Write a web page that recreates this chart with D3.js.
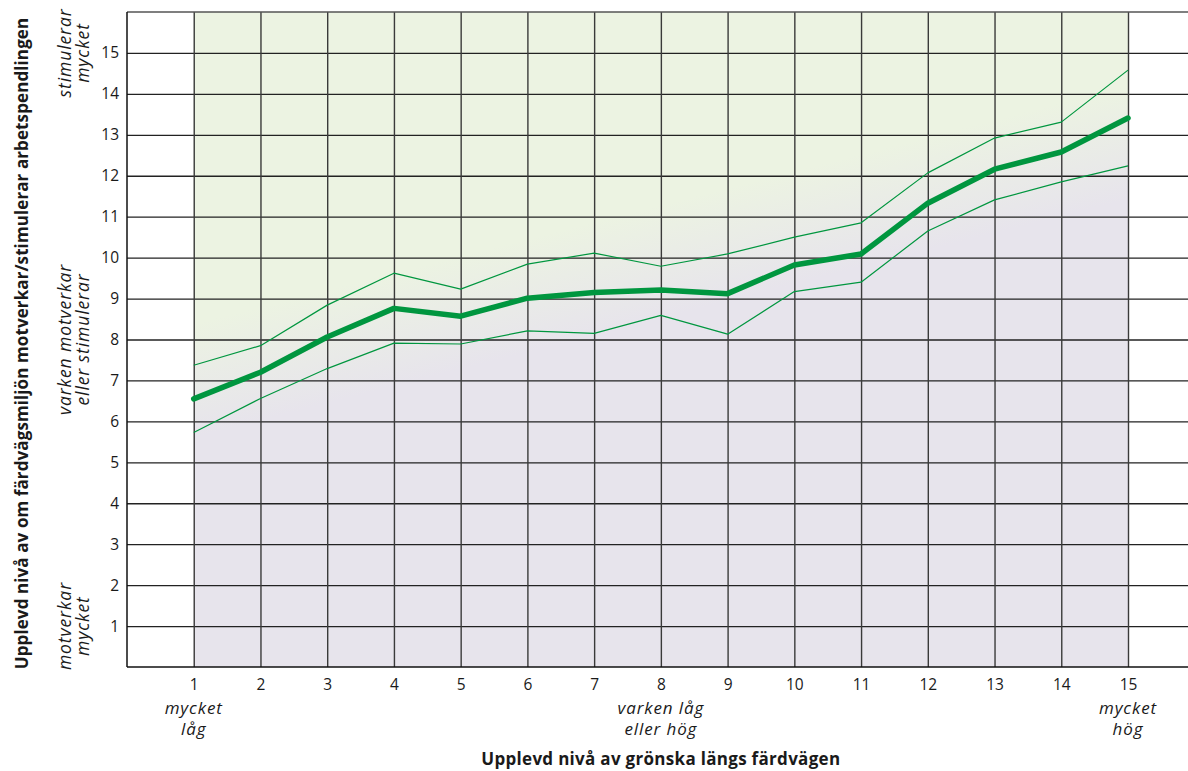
<!DOCTYPE html>
<html>
<head>
<meta charset="utf-8">
<script src="https://cdn.jsdelivr.net/npm/d3@7"></script>
<style>
  html, body { margin: 0; padding: 0; background: #fff; }
  svg { display: block; font-family: "Open Sans", Lato, sans-serif; }
</style>
</head>
<body>
<svg id="chart" width="1188" height="771"></svg>
<script>
// ---- data ----
const categories = [1, 2, 3, 4, 5, 6, 7, 8, 9, 10, 11, 12, 13, 14, 15];
const meanValues  = [6.55, 7.20, 8.06, 8.76, 8.57, 9.01, 9.15, 9.21, 9.12, 9.82, 10.09, 11.33, 12.16, 12.58, 13.41];
const upperValues = [7.37, 7.85, 8.84, 9.62, 9.23, 9.84, 10.11, 9.79, 10.09, 10.50, 10.85, 12.07, 12.92, 13.31, 14.58];
const lowerValues = [5.73, 6.56, 7.29, 7.91, 7.89, 8.21, 8.15, 8.59, 8.13, 9.17, 9.40, 10.65, 11.41, 11.85, 12.24];
const xTickLabels = categories.map(String);
const yTicks = [1, 2, 3, 4, 5, 6, 7, 8, 9, 10, 11, 12, 13, 14, 15];
const xNotes = [
  { at: 1, lines: ["mycket", "låg"] },
  { at: 8, lines: ["varken låg", "eller hög"] },
  { at: 15, lines: ["mycket", "hög"] }
];
const yNotes = [
  { at: 15, lines: ["stimulerar", "mycket"] },
  { at: 8, lines: ["varken motverkar", "eller stimulerar"] },
  { at: 1, lines: ["motverkar", "mycket"] }
];
const xTitle = "Upplevd nivå av grönska längs färdvägen";
const yTitle = "Upplevd nivå av om färdvägsmiljön motverkar/stimulerar arbetspendlingen";

// ---- layout ----
const W = 1188, H = 771;
const svg = d3.select("#chart");
const x = d3.scaleLinear().domain([0, 15]).range([127, 1128]);
const y = d3.scaleLinear().domain([0, 16]).range([667, 12]);
const ink = "#1a1a1a";
const green = "#00963f";
const font = "'Open Sans', Lato, sans-serif";

// background gradient (green above, lavender below), diagonal following the trend
const defs = svg.append("defs");
const p1 = [x(1.5), y(7.2)], p2 = [x(14.5), y(12.6)];
const mid = [(p1[0] + p2[0]) / 2, (p1[1] + p2[1]) / 2];
let dx = p2[0] - p1[0], dy = p2[1] - p1[1];
const len = Math.hypot(dx, dy);
let nx = -dy / len, ny = dx / len;
if (ny < 0) { nx = -nx; ny = -ny; }
const spread = 55;
const grad = defs.append("linearGradient")
  .attr("id", "bg").attr("gradientUnits", "userSpaceOnUse")
  .attr("x1", mid[0] - nx * spread).attr("y1", mid[1] - ny * spread)
  .attr("x2", mid[0] + nx * spread).attr("y2", mid[1] + ny * spread);
grad.append("stop").attr("offset", "0%").attr("stop-color", "#ecf3e2");
grad.append("stop").attr("offset", "100%").attr("stop-color", "#e7e4ec");

svg.append("rect")
  .attr("x", x(1)).attr("y", y(16))
  .attr("width", x(15) - x(1)).attr("height", y(0) - y(16))
  .attr("fill", "url(#bg)");

// horizontal grid via axisLeft
const yAxis = svg.append("g")
  .attr("transform", `translate(${x(0)},0)`)
  .call(d3.axisLeft(y).tickValues(yTicks).tickSize(-(W - x(0))).tickPadding(8).tickFormat(d3.format("d")));
yAxis.select(".domain").remove();
yAxis.selectAll(".tick line").attr("stroke", "#222").attr("stroke-width", 1.3);
yAxis.selectAll(".tick text")
  .attr("fill", ink).attr("font-size", 15.5).attr("font-family", font);

// vertical grid via axisBottom
const xAxis = svg.append("g")
  .attr("transform", `translate(0,${y(0)})`)
  .call(d3.axisBottom(x).tickValues(categories).tickSize(-(y(0) - y(16))).tickFormat((d, i) => xTickLabels[i]));
xAxis.select(".domain").remove();
xAxis.selectAll(".tick line").attr("stroke", "#3a3a3a").attr("stroke-width", 1.4);
xAxis.selectAll(".tick text")
  .attr("fill", ink).attr("font-size", 15.5).attr("font-family", font)
  .attr("y", 23).attr("dy", 0);

// frame lines
svg.append("line").attr("x1", x(0)).attr("x2", W).attr("y1", y(16)).attr("y2", y(16))
  .attr("stroke", "#555").attr("stroke-width", 1.5);
svg.append("line").attr("x1", x(0)).attr("x2", W).attr("y1", y(0)).attr("y2", y(0))
  .attr("stroke", "#111").attr("stroke-width", 1.5);
svg.append("line").attr("x1", x(0)).attr("x2", x(0)).attr("y1", y(16)).attr("y2", y(0))
  .attr("stroke", "#111").attr("stroke-width", 1.5);

// series lines
const line = d3.line().x((d, i) => x(categories[i])).y(d => y(d));
svg.append("path").datum(upperValues).attr("d", line)
  .attr("fill", "none").attr("stroke", green).attr("stroke-width", 1.2).attr("stroke-linejoin", "round");
svg.append("path").datum(lowerValues).attr("d", line)
  .attr("fill", "none").attr("stroke", green).attr("stroke-width", 1.2).attr("stroke-linejoin", "round");
svg.append("path").datum(meanValues).attr("d", line)
  .attr("fill", "none").attr("stroke", green).attr("stroke-width", 5.5)
  .attr("stroke-linejoin", "round").attr("stroke-linecap", "round");

// x notes (italic), one text element per line
xNotes.forEach(n => {
  n.lines.forEach((l, i) => svg.append("text")
    .attr("x", x(n.at)).attr("y", 714 + i * 21)
    .attr("text-anchor", "middle").attr("font-style", "italic")
    .attr("font-size", 17).attr("letter-spacing", 0.9)
    .attr("fill", ink).attr("font-family", font).text(l));
});

// y notes (italic, rotated)
yNotes.forEach(n => {
  const cy = y(n.at);
  const t = svg.append("text")
    .attr("transform", `translate(71,${cy}) rotate(-90)`)
    .attr("text-anchor", "middle").attr("font-style", "italic")
    .attr("font-size", 17.5).attr("letter-spacing", 0.9)
    .attr("fill", ink).attr("font-family", font);
  n.lines.forEach((l, i) => t.append("tspan").attr("x", 0).attr("dy", i === 0 ? 0 : 18).text(l));
});

// axis titles
svg.append("text")
  .attr("x", x(8)).attr("y", 765)
  .attr("text-anchor", "middle").attr("font-weight", "bold")
  .attr("font-size", 17).attr("letter-spacing", 0.3)
  .attr("fill", ink).attr("font-family", font).text(xTitle);

svg.append("text")
  .attr("transform", `translate(28,${(y(0) + y(16)) / 2 + 4}) rotate(-90)`)
  .attr("text-anchor", "middle").attr("font-weight", "bold")
  .attr("font-size", 17).attr("letter-spacing", 0.1)
  .attr("fill", ink).attr("font-family", font).text(yTitle);
</script>
</body>
</html>
